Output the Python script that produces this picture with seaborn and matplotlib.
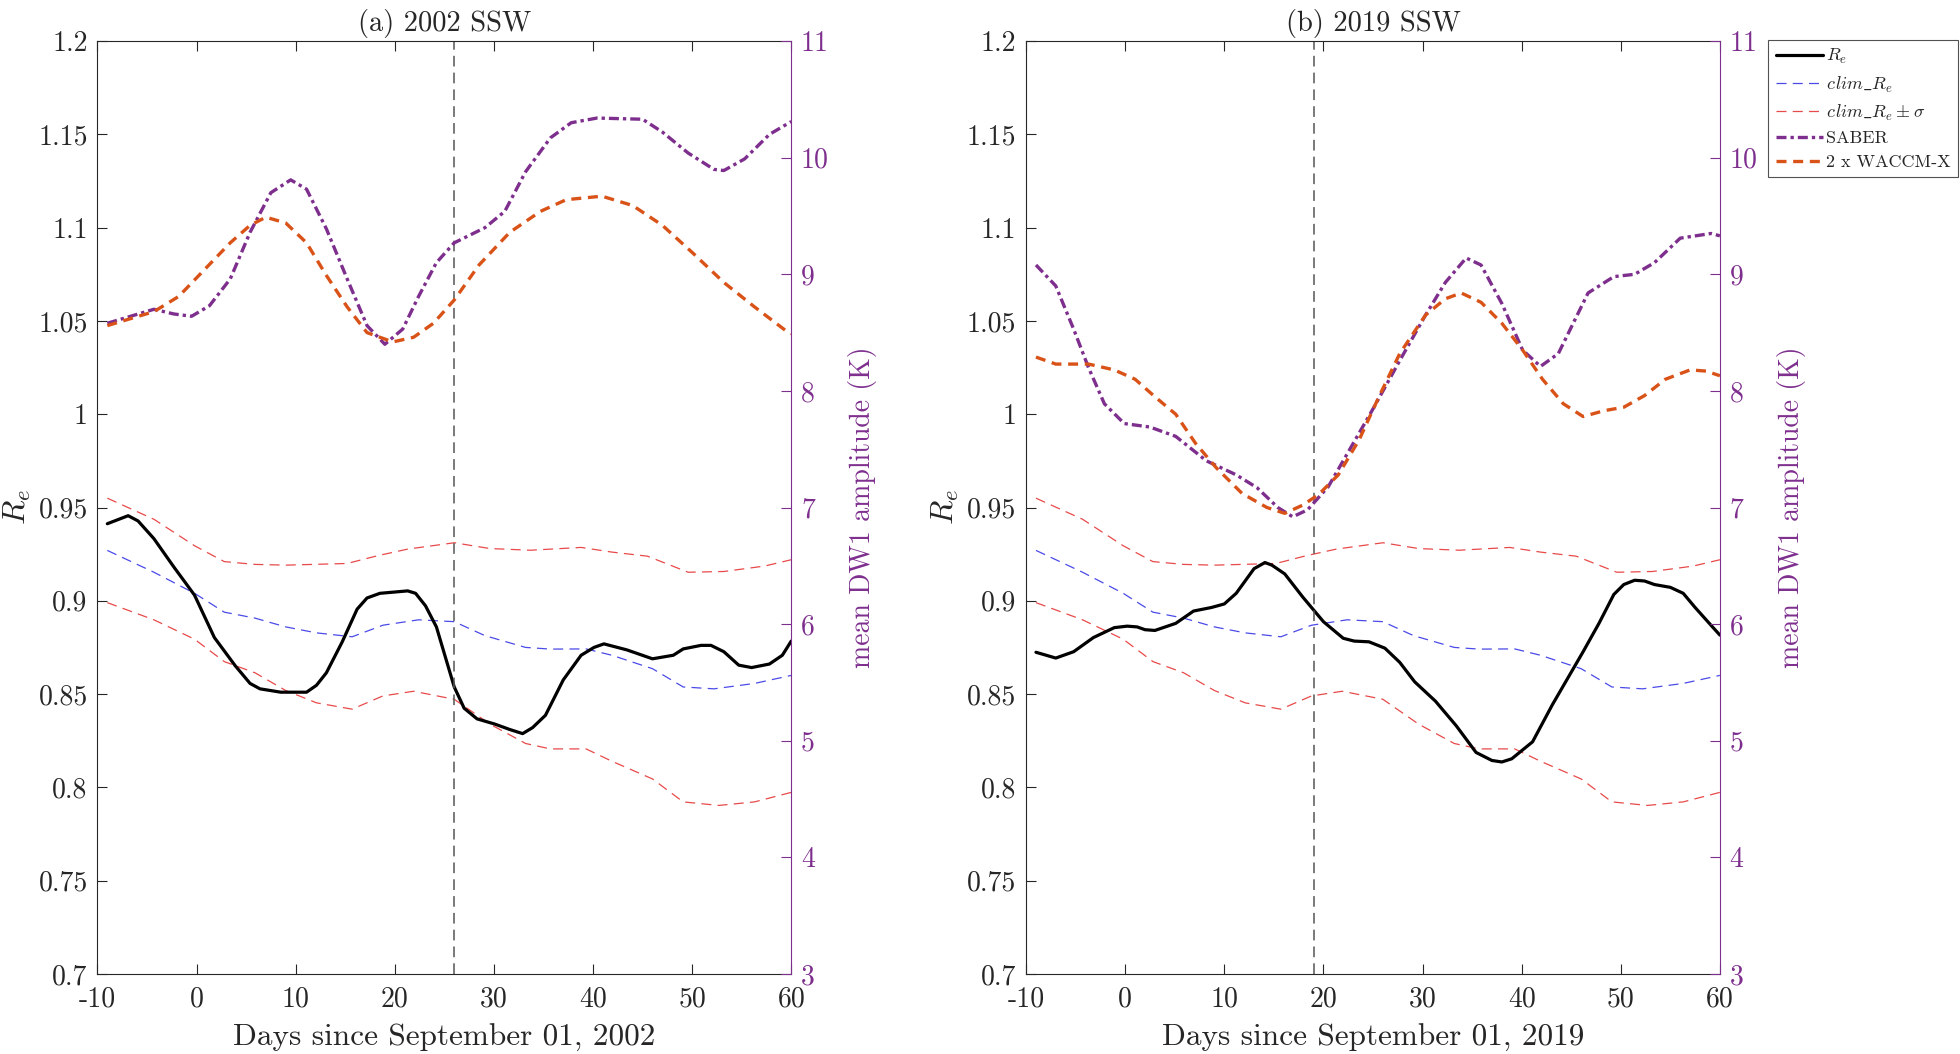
import matplotlib
matplotlib.use("Agg")
from matplotlib import pyplot as plt
from matplotlib.lines import Line2D
import seaborn as sns

# climatology (same in both panels)
clim_days = [-9, -4.3, -0.2, 2.8, 5.9, 9.0, 12.1, 15.7, 18.8, 22.4, 26.0, 29.1, 33.2, 35.7, 39.3, 41.9, 46.0, 49.1, 52.2, 56.3, 60]
clim_re = [0.927, 0.9153, 0.904, 0.8939, 0.8907, 0.886, 0.8828, 0.8807, 0.8869, 0.8898, 0.8888, 0.8813, 0.875, 0.8741, 0.8742, 0.8708, 0.8636, 0.8538, 0.8528, 0.8557, 0.86]

hi_days = [-9, -4.3, -0.2, 2.8, 5.9, 9.0, 15.2, 18.3, 21.3, 26.0, 29.6, 33.7, 38.8, 41.9, 45.5, 49.6, 53.2, 57.3, 60]
clim_hi = [0.955, 0.9437, 0.9295, 0.921, 0.9195, 0.9191, 0.92, 0.9242, 0.9277, 0.9311, 0.928, 0.9271, 0.9286, 0.9261, 0.9239, 0.9153, 0.9157, 0.9186, 0.922]

lo_days = [-9, -4.3, -0.2, 2.8, 5.9, 9.0, 12.1, 15.7, 18.8, 21.9, 26.0, 29.6, 33.2, 35.7, 39.3, 41.9, 46.0, 49.1, 52.7, 56.3, 60]
clim_lo = [0.899, 0.8898, 0.8794, 0.8674, 0.8614, 0.8519, 0.8453, 0.8419, 0.849, 0.8515, 0.8472, 0.8339, 0.8235, 0.8206, 0.8206, 0.814, 0.8045, 0.7922, 0.7903, 0.7922, 0.7973]

# 2002 event
re02_days = [-9, -6.9, -5.9, -4.3, -2.3, -0.2, 1.8, 3.9, 5.4, 6.4, 8.5, 11.1, 12.1, 13.1, 14.7, 16.2, 17.2, 18.5, 21.3, 22.1, 23.1, 24.2, 26.0, 27.0, 28.3, 30.1, 31.6, 32.9, 33.9, 35.2, 37.0, 38.8, 40.1, 41.1, 43.4, 46.0, 48.1, 49.1, 50.9, 51.9, 53.2, 54.7, 56.0, 57.8, 59.1, 60]
re02 = [0.9413, 0.9456, 0.9428, 0.9333, 0.9182, 0.903, 0.8803, 0.8652, 0.8557, 0.8528, 0.851, 0.851, 0.8547, 0.8614, 0.878, 0.8955, 0.9015, 0.904, 0.9053, 0.904, 0.8973, 0.886, 0.8538, 0.8424, 0.8367, 0.8339, 0.831, 0.8288, 0.832, 0.8386, 0.8576, 0.8708, 0.875, 0.8769, 0.8737, 0.8689, 0.8708, 0.8742, 0.8761, 0.8761, 0.8727, 0.8655, 0.8642, 0.8661, 0.8708, 0.8784]

saber02_days = [-9, -4.3, -2.3, -0.5, 1.3, 3.4, 5.4, 7.5, 9.5, 11.1, 13.1, 15.2, 17.2, 19.0, 20.8, 22.4, 24.2, 26.0, 29.1, 31.1, 33.2, 35.7, 37.8, 40.4, 45.0, 47.0, 49.6, 52.2, 53.2, 55.3, 57.8, 60.0]
saber02 = [8.58, 8.70, 8.66, 8.64, 8.73, 8.96, 9.36, 9.70, 9.81, 9.73, 9.39, 8.96, 8.56, 8.40, 8.53, 8.81, 9.10, 9.27, 9.40, 9.54, 9.88, 10.17, 10.30, 10.34, 10.33, 10.22, 10.04, 9.90, 9.89, 9.99, 10.20, 10.31]

waccm02_days = [-9, -4.3, -1.8, 0.8, 3.4, 5.4, 7.0, 9.0, 11.1, 13.1, 15.2, 17.2, 19.8, 21.9, 23.9, 26.0, 28.5, 31.6, 34.7, 37.3, 40.9, 44.0, 47.0, 50.1, 53.2, 56.3, 59.4, 60]
waccm02 = [8.56, 8.68, 8.81, 9.04, 9.27, 9.42, 9.49, 9.44, 9.27, 8.99, 8.72, 8.50, 8.42, 8.46, 8.58, 8.78, 9.08, 9.36, 9.54, 9.64, 9.67, 9.59, 9.42, 9.18, 8.93, 8.72, 8.52, 8.49]

# 2019 event
re19_days = [-9, -7.0, -5.2, -3.2, -1.1, 0.2, 1.2, 2.0, 3.0, 5.1, 6.9, 8.7, 10.0, 11.2, 13.0, 14.1, 14.8, 16.1, 17.9, 20.0, 22.0, 23.1, 24.6, 26.2, 27.7, 29.2, 31.3, 33.4, 35.4, 37.0, 38.0, 39.0, 41.1, 43.1, 46.2, 47.8, 49.3, 50.3, 51.4, 52.4, 53.4, 55.0, 56.3, 57.5, 59.1, 60]
re19 = [0.8724, 0.8693, 0.8727, 0.8803, 0.8856, 0.8864, 0.886, 0.8845, 0.8841, 0.8879, 0.8945, 0.8964, 0.8983, 0.904, 0.9172, 0.9205, 0.9191, 0.9144, 0.9021, 0.8888, 0.8799, 0.8784, 0.878, 0.8746, 0.867, 0.8566, 0.8462, 0.833, 0.8187, 0.8144, 0.8136, 0.8153, 0.8244, 0.8443, 0.8727, 0.8879, 0.9034, 0.9087, 0.911, 0.9106, 0.9087, 0.9072, 0.904, 0.8964, 0.8869, 0.8816]

saber19_days = [-9, -7.0, -5.2, -3.7, -2.1, -0.1, 2.5, 5.1, 8.2, 11.2, 13.3, 15.4, 16.9, 18.4, 20.5, 22.6, 25.1, 27.7, 30.3, 32.3, 34.4, 35.9, 38.0, 40.1, 41.9, 43.7, 46.7, 49.3, 51.4, 53.4, 56.0, 59.1, 60]
saber19 = [9.08, 8.90, 8.53, 8.20, 7.89, 7.72, 7.69, 7.61, 7.40, 7.28, 7.17, 7.00, 6.92, 6.98, 7.18, 7.49, 7.86, 8.26, 8.65, 8.93, 9.14, 9.08, 8.75, 8.35, 8.21, 8.32, 8.84, 8.98, 9.00, 9.10, 9.31, 9.35, 9.33]

waccm19_days = [-9, -7.0, -3.7, -1.1, 1.0, 3.0, 5.1, 7.1, 9.2, 11.8, 14.3, 16.1, 17.9, 19.5, 21.5, 23.6, 25.6, 27.7, 30.3, 32.3, 33.9, 35.9, 38.0, 40.1, 42.1, 44.2, 46.2, 48.3, 50.3, 52.4, 54.5, 57.0, 58.6, 60]
waccm19 = [8.29, 8.23, 8.23, 8.18, 8.10, 7.95, 7.80, 7.55, 7.34, 7.12, 7.00, 6.95, 7.02, 7.11, 7.28, 7.58, 7.95, 8.32, 8.65, 8.79, 8.84, 8.76, 8.58, 8.35, 8.10, 7.89, 7.78, 7.83, 7.86, 7.96, 8.10, 8.18, 8.17, 8.13]

ssw_day = [26, 19]
titles = ["(a) 2002 SSW", "(b) 2019 SSW"]
xlabels = ["Days since September 01, 2002", "Days since September 01, 2019"]

sns.set_style("ticks")
plt.rcParams["font.family"] = ["cmr10", "DejaVu Serif"]
plt.rcParams["mathtext.fontset"] = "cm"
plt.rcParams["axes.unicode_minus"] = False
plt.rcParams["axes.formatter.use_mathtext"] = True

purple = "#7E2F8E"
orange = "#D95319"
gray = "#262626"
blue = "#4a4ae8"
red = "#e84a4a"
clim_ls = (0, (8, 5))
saber_ls = (0, (3, 1.2, 1, 1.2))
waccm_ls = (0, (3, 2))

fig = plt.figure(figsize=(19.6, 10.54), dpi=100)
lefts = [0.0497, 0.5235]

panels = [
    (re02_days, re02, saber02_days, saber02, waccm02_days, waccm02),
    (re19_days, re19, saber19_days, saber19, waccm19_days, waccm19),
]

for i, (rd, rv, sd, sv, wd, wv) in enumerate(panels):
    ax = fig.add_axes([lefts[i], 0.076, 0.354, 0.885])
    ax2 = ax.twinx()

    sns.lineplot(x=clim_days, y=clim_re, ax=ax, color=blue, linewidth=0.9, sort=False, linestyle=clim_ls)
    sns.lineplot(x=hi_days, y=clim_hi, ax=ax, color=red, linewidth=0.9, sort=False, linestyle=clim_ls)
    sns.lineplot(x=lo_days, y=clim_lo, ax=ax, color=red, linewidth=0.9, sort=False, linestyle=clim_ls)
    sns.lineplot(x=rd, y=rv, ax=ax, color="black", linewidth=2.3, sort=False)
    ax.axvline(ssw_day[i], color="#555555", linewidth=1.1, linestyle=(0, (7, 4)))

    sns.lineplot(x=sd, y=sv, ax=ax2, color=purple, linewidth=2.4, sort=False, linestyle=saber_ls)
    sns.lineplot(x=wd, y=wv, ax=ax2, color=orange, linewidth=2.4, sort=False, linestyle=waccm_ls)

    ax.set_xlim(-10, 60)
    ax.set_ylim(0.7, 1.2)
    ax2.set_ylim(3, 11)
    ax.set_xticks(range(-10, 61, 10))
    ax.set_xticklabels([str(v) for v in range(-10, 61, 10)])
    yt = [0.7, 0.75, 0.8, 0.85, 0.9, 0.95, 1.0, 1.05, 1.1, 1.15, 1.2]
    ax.set_yticks(yt)
    ax.set_yticklabels(["0.7", "0.75", "0.8", "0.85", "0.9", "0.95", "1", "1.05", "1.1", "1.15", "1.2"])
    ax2.set_yticks(range(3, 12))
    ax2.set_yticklabels([str(v) for v in range(3, 12)])

    ax.tick_params(axis="both", direction="in", length=7, width=0.8, colors=gray,
                   labelsize=20, top=True, right=False, pad=7)
    ax.tick_params(axis="x", pad=9)
    ax2.tick_params(axis="y", direction="in", length=7, width=0.8, colors=purple,
                    labelsize=20, pad=7)
    for s in ["left", "top", "bottom"]:
        ax.spines[s].set_color(gray)
        ax.spines[s].set_linewidth(0.8)
    ax2.spines["right"].set_color(purple)
    ax2.spines["right"].set_linewidth(0.8)
    for s in ["left", "top", "bottom"]:
        ax2.spines[s].set_visible(False)
    ax.spines["right"].set_visible(False)

    ax.set_title(titles[i], fontsize=20.5, pad=7)
    ax.set_xlabel(xlabels[i], fontsize=22.5, labelpad=8)
    ax.set_ylabel(r"$R_e$", fontsize=23, labelpad=4)
    ax2.set_ylabel("mean DW1 amplitude (K)", fontsize=20, color=purple, labelpad=14)

handles = [
    Line2D([], [], color="black", linewidth=2.3),
    Line2D([], [], color=blue, linewidth=0.9, linestyle=clim_ls),
    Line2D([], [], color=red, linewidth=0.9, linestyle=clim_ls),
    Line2D([], [], color=purple, linewidth=2.4, linestyle=saber_ls),
    Line2D([], [], color=orange, linewidth=2.4, linestyle=waccm_ls),
]
labels = [r"$R_e$", r"$c\hspace{0.08}lim\_R_e$", r"$c\hspace{0.08}lim\_R_e \pm \sigma$", "SABER", "2 x WACCM-X"]
leg = fig.legend(handles, labels, loc="upper right", bbox_to_anchor=(0.999, 0.962),
                 fontsize=13, frameon=True, fancybox=False, handlelength=2.6,
                 labelspacing=0.45, borderpad=0.4, handletextpad=0.2, borderaxespad=0)
leg.get_frame().set_edgecolor(gray)
leg.get_frame().set_linewidth(0.8)

fig.savefig("out.png", dpi=100)
